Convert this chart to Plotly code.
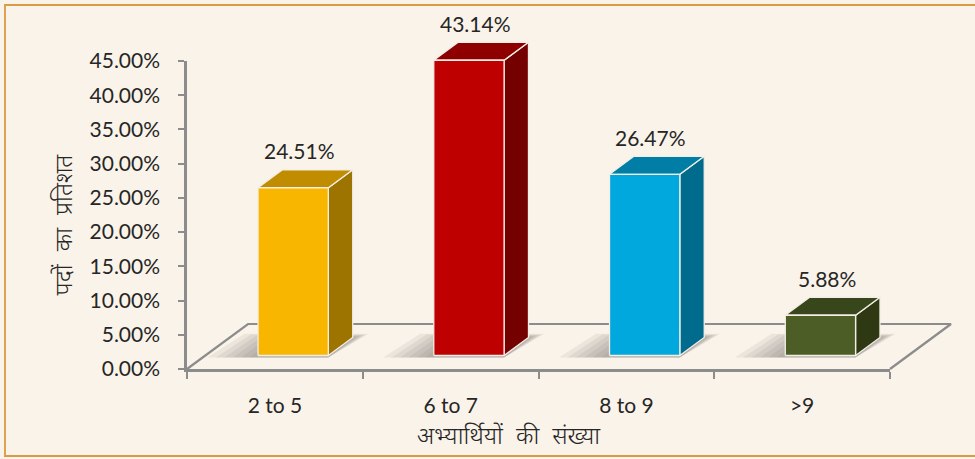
import plotly.graph_objects as go

# ---------------- data ----------------
categories = ["2 to 5", "6 to 7", "8 to 9", ">9"]
percent_values = [24.51, 43.14, 26.47, 5.88]
y_tick_values = [0, 5, 10, 15, 20, 25, 30, 35, 40, 45]
y_tick_labels = [f"{v:.2f}%" for v in y_tick_values]
x_title = "अभ्यार्थियों की संख्या"
y_title = "पदों का प्रतिशत"

front_colors = ["#F9B600", "#BF0000", "#00A8DD", "#4C5E25"]
top_colors = ["#C08C00", "#8E0000", "#007EA6", "#38461B"]
side_colors = ["#9E7400", "#740000", "#006B8C", "#2E3914"]

# ---------------- geometry (pixels) ----------------
W, H = 975, 459
AX_L, AX_R = 187, 890          # front floor edge (x axis)
AX_B, AX_T = 369, 61           # 0% and 45% on the y axis
Y_MAX = 45
n = len(categories)
px_per_cat = (AX_R - AX_L) / n
px_per_pct = (AX_B - AX_T) / Y_MAX
DEPTH_PX = (61, 45)            # floor depth (right, up)
DX = DEPTH_PX[0] / px_per_cat
DY = DEPTH_PX[1] / px_per_pct
F0, F1 = 0.30, 0.70            # bar depth start / end as fraction of floor depth
BAR_W = 0.40

BG = "#FAF3E9"
GRID = "#8C8C8C"
TXT = "#262626"
FONT = "Lato, 'Noto Sans Devanagari', 'Lohit Devanagari', 'Noto Sans', sans-serif"

# full-canvas secondary axes with the same scale as the front axes
x2_range = [-0.5 - AX_L / px_per_cat, -0.5 + (W - AX_L) / px_per_cat]
y2_range = [(AX_B - H) / px_per_pct, AX_B / px_per_pct]

fig = go.Figure()


def poly(xs, ys, fill, line=None):
    fig.add_trace(go.Scatter(
        x=list(xs) + [xs[0]], y=list(ys) + [ys[0]], mode="lines",
        fill="toself", fillcolor=fill,
        line=line if line else dict(width=0),
        xaxis="x2", yaxis="y2", hoverinfo="skip", showlegend=False))


# floor outline (back edge and side edges)
fig.add_trace(go.Scatter(
    x=[-0.5, -0.5 + DX, n - 0.5 + DX, n - 0.5],
    y=[0, DY, DY, 0], mode="lines", xaxis="x2", yaxis="y2",
    line=dict(color=GRID, width=2.2), hoverinfo="skip", showlegend=False))

outline = dict(color="#F3EEE6", width=1.3)
a0x, a0y = F0 * DX, F0 * DY
a1x, a1y = F1 * DX, F1 * DY

# soft shadows on the floor (mostly to the left of each bar)
for i, v in enumerate(percent_values):
    xl, xr = i - BAR_W / 2, i + BAR_W / 2
    for k in range(6):
        e = 0.03 + 0.03 * (5 - k)
        poly([xl + a0x - e * 1.6, xr + a0x, xr + a1x + e * 0.5,
              xl + a1x - e * 1.2],
             [a0y - 0.3, a0y - 0.3, a1y + e * 3, a1y + e * 3],
             "rgba(60,60,60,0.07)")

for i, (cat, v) in enumerate(zip(categories, percent_values)):
    xl, xr = i - BAR_W / 2, i + BAR_W / 2
    # side face
    poly([xr + a0x, xr + a1x, xr + a1x, xr + a0x],
         [a0y, a1y, v + a1y, v + a0y], side_colors[i], outline)
    # top face
    poly([xl + a0x, xr + a0x, xr + a1x, xl + a1x],
         [v + a0y, v + a0y, v + a1y, v + a1y], top_colors[i], outline)
    # front face
    poly([xl + a0x, xr + a0x, xr + a0x, xl + a0x],
         [a0y, a0y, v + a0y, v + a0y], front_colors[i], outline)
    # value label
    fig.add_annotation(x=i + 0.4 * DX, y=v + a1y, xref="x2", yref="y2",
                       text=f"{v:.2f}%", showarrow=False, yshift=19,
                       font=dict(family=FONT, size=21, color=TXT))

# invisible trace to give the front axes their category scale
fig.add_trace(go.Scatter(x=categories, y=[None] * n, mode="markers",
                         xaxis="x", yaxis="y", hoverinfo="skip",
                         showlegend=False))


def spaced(s):
    return s.replace(" ", " \u00a0")


fig.update_layout(
    width=W, height=H,
    margin=dict(l=0, r=0, t=0, b=0, autoexpand=False),
    paper_bgcolor=BG, plot_bgcolor="rgba(0,0,0,0)",
    xaxis=dict(domain=[AX_L / W, AX_R / W], type="category",
               categoryorder="array", categoryarray=categories,
               range=[-0.5, n - 0.5], showline=True, linecolor=GRID,
               linewidth=3, ticks="outside", tickson="boundaries",
               ticklen=7, tickwidth=2, tickcolor=GRID, showgrid=False,
               zeroline=False, ticklabelstandoff=16, automargin=False,
               tickfont=dict(family=FONT, size=21, color=TXT)),
    yaxis=dict(domain=[(H - AX_B) / H, (H - AX_T) / H], range=[0, Y_MAX],
               tickmode="array", tickvals=y_tick_values,
               ticktext=y_tick_labels,
               showline=True, linecolor=GRID, linewidth=2.5,
               ticks="outside", ticklen=6, tickwidth=2, tickcolor=GRID,
               showgrid=False, zeroline=False, ticklabelstandoff=14,
               automargin=False,
               tickfont=dict(family=FONT, size=21, color=TXT)),
    xaxis2=dict(domain=[0, 1], range=x2_range, anchor="y2", visible=False,
                automargin=False),
    yaxis2=dict(domain=[0, 1], range=y2_range, anchor="x2", visible=False,
                automargin=False),
    shapes=[dict(type="rect", xref="paper", yref="paper",
                 x0=5 / W, x1=1.02, y0=(H - 456) / H, y1=(H - 5) / H,
                 line=dict(color="#DA9B45", width=1.8),
                 fillcolor="rgba(0,0,0,0)", layer="below")],
    annotations=list(fig.layout.annotations) + [
        dict(text=spaced(x_title), x=509 / W, y=(H - 434) / H, xref="paper",
             yref="paper", showarrow=False, yanchor="middle",
             font=dict(family=FONT, size=24, color=TXT, weight=300)),
        dict(text=spaced(y_title), x=45 / W, y=(H - 225) / H, xref="paper",
             yref="paper", showarrow=False, textangle=-90,
             font=dict(family=FONT, size=24, color=TXT, weight=300)),
    ],
)

fig.write_html("out.html",
               config={"displayModeBar": False},
               post_script="document.body.style.margin='0';"
                           "document.body.style.overflow='hidden';")
